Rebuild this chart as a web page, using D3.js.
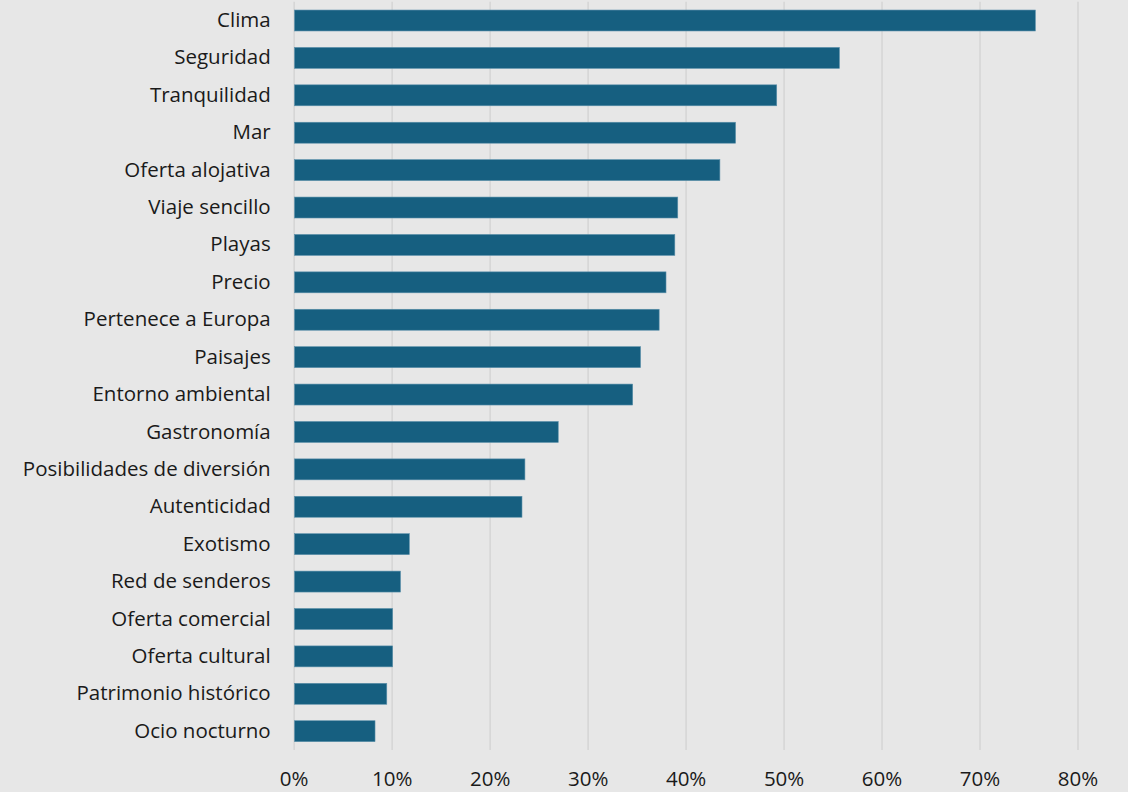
<!DOCTYPE html>
<html><head><meta charset="utf-8">
<script src="https://cdn.jsdelivr.net/npm/d3@7"></script>
<style>
html,body{margin:0;padding:0;background:#e7e7e7;}
svg{display:block;}
</style></head>
<body>
<svg id="chart" width="1128" height="792"></svg>
<script>
const categories = ["Clima","Seguridad","Tranquilidad","Mar","Oferta alojativa","Viaje sencillo","Playas","Precio","Pertenece a Europa","Paisajes","Entorno ambiental","Gastronomía","Posibilidades de diversión","Autenticidad","Exotismo","Red de senderos","Oferta comercial","Oferta cultural","Patrimonio histórico","Ocio nocturno"];
const values = [75.7,55.7,49.3,45.1,43.5,39.2,38.9,38.0,37.3,35.4,34.6,27.0,23.6,23.3,11.8,10.9,10.1,10.1,9.5,8.3];
const tickValues = [0,10,20,30,40,50,60,70,80];

(function () {
const svg = d3.select("#chart");
const W = 1128, H = 792;
const mLeft = 293.7, mRight = 1077.5, mTop = 1.8, mBottom = 749.9;
const font = "'Open Sans', sans-serif";
const fs = 20.5;

svg.append("rect").attr("width", W).attr("height", H).attr("fill", "#e7e7e7");

const x = d3.scaleLinear().domain([0, 80]).range([mLeft, mRight]);
const y = d3.scaleBand().domain(categories).range([mTop, mBottom]).paddingInner(0.44).paddingOuter(0.22);

// gridlines
const grid = svg.append("g").attr("transform", `translate(0,${mBottom})`)
  .call(d3.axisBottom(x).tickValues(tickValues).tickSize(-(mBottom - mTop)).tickFormat(""));
grid.select(".domain").remove();
grid.selectAll("line").attr("stroke", "#d6d6d6").attr("stroke-width", 1.6);

// bars
svg.append("g").selectAll("rect").data(categories).join("rect")
  .attr("x", x(0) + 0.8)
  .attr("y", d => y(d))
  .attr("width", (d, i) => x(values[i]) - x(0) - 0.8)
  .attr("height", y.bandwidth())
  .attr("fill", "#165f80")
  .attr("stroke", "#5b90aa")
  .attr("stroke-width", 0.6);

// x axis labels
const xa = svg.append("g").attr("transform", `translate(0,${mBottom})`)
  .call(d3.axisBottom(x).tickValues(tickValues).tickSize(0).tickPadding(21.5).tickFormat(d => d + "%"));
xa.select(".domain").remove();
xa.selectAll("text").attr("font-family", font).attr("font-size", fs).attr("fill", "#1a1a1a");

// y axis labels
const ya = svg.append("g").attr("transform", `translate(${mLeft},0)`)
  .call(d3.axisLeft(y).tickSize(0).tickPadding(23));
ya.select(".domain").remove();
ya.selectAll("text").attr("font-family", font).attr("font-size", fs).attr("fill", "#1a1a1a");
})();
</script>
</body></html>
